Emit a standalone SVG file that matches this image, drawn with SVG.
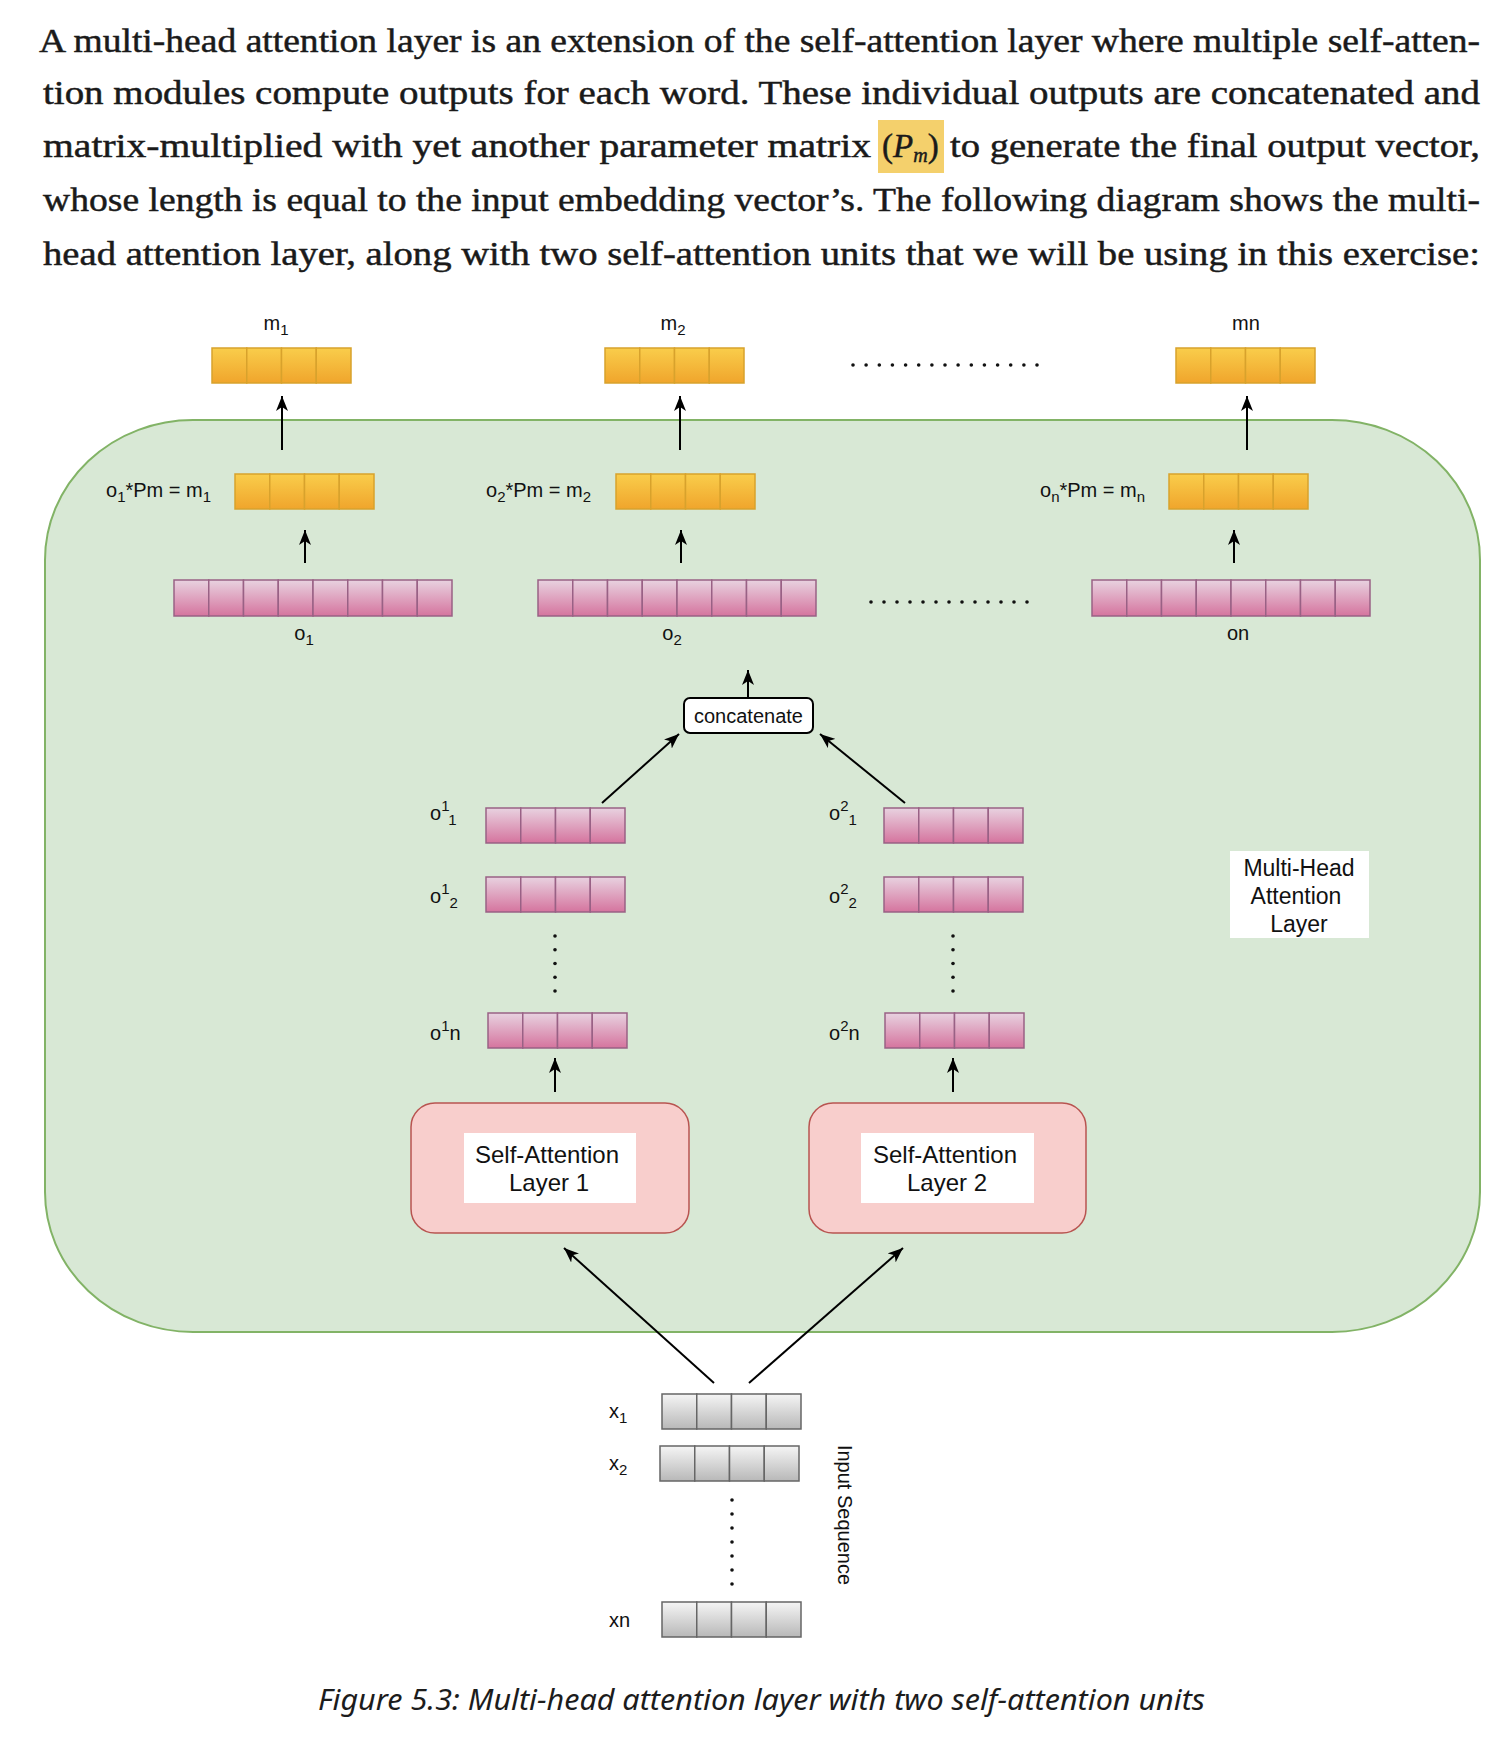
<svg xmlns="http://www.w3.org/2000/svg" xmlns:xlink="http://www.w3.org/1999/xlink" width="1512" height="1754" viewBox="0 0 1512 1754">
<style>
.para{font-family:"Liberation Serif",serif;font-size:33px;fill:#1a1a1a;stroke:#1a1a1a;stroke-width:0.45}
.cap{font-family:"Noto Sans","Liberation Sans",sans-serif;font-style:italic;font-size:29px;fill:#1c1c1c}
.lbl{font-family:"Liberation Sans",Arial,sans-serif;font-size:20px;fill:#111}
.big{font-family:"Liberation Sans",Arial,sans-serif;font-size:24px;fill:#111}
.mh{font-family:"Liberation Sans",Arial,sans-serif;font-size:23px;fill:#111}
.co{fill:url(#gOr);stroke:#d8a22c;stroke-width:1.5}
.cp{fill:url(#gPk);stroke:#996185;stroke-width:1.5}
.cg{fill:url(#gGr);stroke:#666;stroke-width:1.5}
.ln{stroke:#000;stroke-width:2;fill:none;marker-end:url(#arr)}
.dot{fill:#111}
</style>
<defs>
<linearGradient id="gOr" x1="0" y1="0" x2="0" y2="1"><stop offset="0" stop-color="#f9cd4b"/><stop offset="1" stop-color="#f0a52c"/></linearGradient>
<linearGradient id="gPk" x1="0" y1="0" x2="0" y2="1"><stop offset="0" stop-color="#e8d2e0"/><stop offset="1" stop-color="#d5749e"/></linearGradient>
<linearGradient id="gGr" x1="0" y1="0" x2="0" y2="1"><stop offset="0" stop-color="#f5f5f5"/><stop offset="1" stop-color="#b8b8b8"/></linearGradient>
<marker id="arr" viewBox="0 0 15 12" refX="15" refY="6" markerWidth="15" markerHeight="12" markerUnits="userSpaceOnUse" orient="auto"><path d="M0,0 L15,6 L0,12 L4,6 z" fill="#000"/></marker>
<g id="c4o"><rect class="co" x="0" y="0" width="34.75" height="35"/><rect class="co" x="34.75" y="0" width="34.75" height="35"/><rect class="co" x="69.5" y="0" width="34.75" height="35"/><rect class="co" x="104.25" y="0" width="34.75" height="35"/></g>
<g id="c4p"><rect class="cp" x="0" y="0" width="34.75" height="35"/><rect class="cp" x="34.75" y="0" width="34.75" height="35"/><rect class="cp" x="69.5" y="0" width="34.75" height="35"/><rect class="cp" x="104.25" y="0" width="34.75" height="35"/></g>
<g id="c8p"><rect class="cp" x="0" y="0" width="34.75" height="36"/><rect class="cp" x="34.75" y="0" width="34.75" height="36"/><rect class="cp" x="69.5" y="0" width="34.75" height="36"/><rect class="cp" x="104.25" y="0" width="34.75" height="36"/><rect class="cp" x="139" y="0" width="34.75" height="36"/><rect class="cp" x="173.75" y="0" width="34.75" height="36"/><rect class="cp" x="208.5" y="0" width="34.75" height="36"/><rect class="cp" x="243.25" y="0" width="34.75" height="36"/></g>
<g id="c4g"><rect class="cg" x="0" y="0" width="34.75" height="35"/><rect class="cg" x="34.75" y="0" width="34.75" height="35"/><rect class="cg" x="69.5" y="0" width="34.75" height="35"/><rect class="cg" x="104.25" y="0" width="34.75" height="35"/></g>
</defs>
<rect x="0" y="0" width="1512" height="1754" fill="#fff"/>

<g id="paragraph">
<text class="para" x="39" y="52" textLength="1441" lengthAdjust="spacingAndGlyphs">A multi-head attention layer is an extension of the self-attention layer where multiple self-atten-</text>
<text class="para" x="43" y="104" textLength="1437" lengthAdjust="spacingAndGlyphs">tion modules compute outputs for each word. These individual outputs are concatenated and</text>
<rect x="878" y="120" width="66" height="53" fill="#f4d06c"/>
<text class="para" x="43" y="157" textLength="828" lengthAdjust="spacingAndGlyphs">matrix-multiplied with yet another parameter matrix</text>
<text class="para" x="882" y="157">(<tspan font-style="italic">P</tspan><tspan font-style="italic" font-size="20" dy="5">m</tspan><tspan dy="-5">)</tspan></text>
<text class="para" x="950" y="157" textLength="530" lengthAdjust="spacingAndGlyphs">to generate the final output vector,</text>
<text class="para" x="43" y="211" textLength="1437" lengthAdjust="spacingAndGlyphs">whose length is equal to the input embedding vector’s. The following diagram shows the multi-</text>
<text class="para" x="43" y="265" textLength="1437" lengthAdjust="spacingAndGlyphs">head attention layer, along with two self-attention units that we will be using in this exercise:</text>
</g>

<g id="mha-container">
<rect x="45" y="420" width="1435" height="912" rx="148" ry="140" fill="#d8e8d5" stroke="#82b366" stroke-width="2"/>
</g>

<g id="m1"><use xlink:href="#c4o" x="212" y="348"/><text class="lbl" x="276" y="330" text-anchor="middle">m<tspan font-size="15" dy="5">1</tspan></text></g>
<g id="m2"><use xlink:href="#c4o" x="605" y="348"/><text class="lbl" x="673" y="330" text-anchor="middle">m<tspan font-size="15" dy="5">2</tspan></text></g>
<g id="mn"><use xlink:href="#c4o" x="1176" y="348"/><text class="lbl" x="1246" y="330" text-anchor="middle">mn</text></g>
<g id="top-dots" class="dot">
<circle cx="853" cy="365" r="1.8"/><circle cx="866.1" cy="365" r="1.8"/><circle cx="879.3" cy="365" r="1.8"/><circle cx="892.4" cy="365" r="1.8"/><circle cx="905.6" cy="365" r="1.8"/><circle cx="918.7" cy="365" r="1.8"/><circle cx="931.9" cy="365" r="1.8"/><circle cx="945" cy="365" r="1.8"/><circle cx="958.1" cy="365" r="1.8"/><circle cx="971.3" cy="365" r="1.8"/><circle cx="984.4" cy="365" r="1.8"/><circle cx="997.6" cy="365" r="1.8"/><circle cx="1010.7" cy="365" r="1.8"/><circle cx="1023.9" cy="365" r="1.8"/><circle cx="1037" cy="365" r="1.8"/>
</g>

<g id="p1"><use xlink:href="#c4o" x="235" y="474"/><text class="lbl" x="106" y="497">o<tspan font-size="15" dy="5">1</tspan><tspan dy="-5">*Pm = m</tspan><tspan font-size="15" dy="5">1</tspan></text></g>
<g id="p2"><use xlink:href="#c4o" x="616" y="474"/><text class="lbl" x="486" y="497">o<tspan font-size="15" dy="5">2</tspan><tspan dy="-5">*Pm = m</tspan><tspan font-size="15" dy="5">2</tspan></text></g>
<g id="pn"><use xlink:href="#c4o" x="1169" y="474"/><text class="lbl" x="1040" y="497">o<tspan font-size="15" dy="5">n</tspan><tspan dy="-5">*Pm = m</tspan><tspan font-size="15" dy="5">n</tspan></text></g>

<g id="o1"><use xlink:href="#c8p" x="174" y="580"/><text class="lbl" x="304" y="640" text-anchor="middle">o<tspan font-size="15" dy="5">1</tspan></text></g>
<g id="o2"><use xlink:href="#c8p" x="538" y="580"/><text class="lbl" x="672" y="640" text-anchor="middle">o<tspan font-size="15" dy="5">2</tspan></text></g>
<g id="on"><use xlink:href="#c8p" x="1092" y="580"/><text class="lbl" x="1238" y="640" text-anchor="middle">on</text></g>
<g id="mid-dots" class="dot">
<circle cx="871" cy="602" r="1.8"/><circle cx="884" cy="602" r="1.8"/><circle cx="897" cy="602" r="1.8"/><circle cx="910" cy="602" r="1.8"/><circle cx="923" cy="602" r="1.8"/><circle cx="936" cy="602" r="1.8"/><circle cx="949" cy="602" r="1.8"/><circle cx="962" cy="602" r="1.8"/><circle cx="975" cy="602" r="1.8"/><circle cx="988" cy="602" r="1.8"/><circle cx="1001" cy="602" r="1.8"/><circle cx="1014" cy="602" r="1.8"/><circle cx="1027" cy="602" r="1.8"/>
</g>

<g id="concatenate">
<rect x="684" y="698" width="129" height="35" rx="6" fill="#fff" stroke="#000" stroke-width="2"/>
<text class="lbl" x="748.5" y="723" text-anchor="middle">concatenate</text>
</g>

<g id="o1-1"><use xlink:href="#c4p" x="486" y="808"/><text class="lbl" x="430" y="820">o<tspan font-size="15" dy="-9">1</tspan><tspan font-size="15" dy="14">1</tspan></text></g>
<g id="o1-2"><use xlink:href="#c4p" x="486" y="877"/><text class="lbl" x="430" y="903">o<tspan font-size="15" dy="-9">1</tspan><tspan font-size="15" dy="14">2</tspan></text></g>
<g id="o1-n"><use xlink:href="#c4p" x="488" y="1013"/><text class="lbl" x="430" y="1040">o<tspan font-size="15" dy="-9">1</tspan><tspan dy="9">n</tspan></text></g>
<g id="o2-1"><use xlink:href="#c4p" x="884" y="808"/><text class="lbl" x="829" y="820">o<tspan font-size="15" dy="-9">2</tspan><tspan font-size="15" dy="14">1</tspan></text></g>
<g id="o2-2"><use xlink:href="#c4p" x="884" y="877"/><text class="lbl" x="829" y="903">o<tspan font-size="15" dy="-9">2</tspan><tspan font-size="15" dy="14">2</tspan></text></g>
<g id="o2-n"><use xlink:href="#c4p" x="885" y="1013"/><text class="lbl" x="829" y="1040">o<tspan font-size="15" dy="-9">2</tspan><tspan dy="9">n</tspan></text></g>
<g id="vdots" class="dot">
<circle cx="555" cy="936" r="1.8"/><circle cx="555" cy="949.75" r="1.8"/><circle cx="555" cy="963.5" r="1.8"/><circle cx="555" cy="977.25" r="1.8"/><circle cx="555" cy="991" r="1.8"/>
<circle cx="953" cy="936" r="1.8"/><circle cx="953" cy="949.75" r="1.8"/><circle cx="953" cy="963.5" r="1.8"/><circle cx="953" cy="977.25" r="1.8"/><circle cx="953" cy="991" r="1.8"/>
</g>

<g id="mha-label">
<rect x="1230" y="851" width="139" height="87" fill="#fff"/>
<text class="mh" text-anchor="middle"><tspan x="1299" y="876">Multi-Head</tspan><tspan x="1296" y="904">Attention</tspan><tspan x="1299" y="932">Layer</tspan></text>
</g>

<g id="sa1">
<rect x="411" y="1103" width="278" height="130" rx="24" fill="#f8cecc" stroke="#b85450" stroke-width="1.5"/>
<rect x="464" y="1133" width="172" height="70" fill="#fff"/>
<text class="big" text-anchor="middle"><tspan x="547" y="1163">Self-Attention</tspan><tspan x="549" y="1191">Layer 1</tspan></text>
</g>
<g id="sa2">
<rect x="809" y="1103" width="277" height="130" rx="24" fill="#f8cecc" stroke="#b85450" stroke-width="1.5"/>
<rect x="861" y="1133" width="173" height="70" fill="#fff"/>
<text class="big" text-anchor="middle"><tspan x="945" y="1163">Self-Attention</tspan><tspan x="947" y="1191">Layer 2</tspan></text>
</g>

<g id="x1"><use xlink:href="#c4g" x="662" y="1394"/><text class="lbl" x="609" y="1418">x<tspan font-size="15" dy="5">1</tspan></text></g>
<g id="x2"><use xlink:href="#c4g" x="660" y="1446"/><text class="lbl" x="609" y="1470">x<tspan font-size="15" dy="5">2</tspan></text></g>
<g id="xn"><use xlink:href="#c4g" x="662" y="1602"/><text class="lbl" x="609" y="1627">xn</text></g>
<g id="x-dots" class="dot">
<circle cx="732" cy="1500" r="1.8"/><circle cx="732" cy="1514" r="1.8"/><circle cx="732" cy="1528" r="1.8"/><circle cx="732" cy="1542" r="1.8"/><circle cx="732" cy="1556" r="1.8"/><circle cx="732" cy="1570" r="1.8"/><circle cx="732" cy="1584" r="1.8"/>
</g>
<g id="input-seq-label">
<text class="lbl" x="0" y="0" text-anchor="middle" transform="translate(838 1515) rotate(90)">Input Sequence</text>
</g>

<g id="connectors">
<line class="ln" x1="282" y1="450" x2="282" y2="396"/>
<line class="ln" x1="680" y1="450" x2="680" y2="396"/>
<line class="ln" x1="1247" y1="450" x2="1247" y2="396"/>
<line class="ln" x1="305" y1="563" x2="305" y2="530"/>
<line class="ln" x1="681" y1="563" x2="681" y2="530"/>
<line class="ln" x1="1234" y1="563" x2="1234" y2="530"/>
<line class="ln" x1="748" y1="698" x2="748" y2="670"/>
<line class="ln" x1="602" y1="803" x2="679" y2="734"/>
<line class="ln" x1="905" y1="803" x2="820" y2="734"/>
<line class="ln" x1="555" y1="1092" x2="555" y2="1058"/>
<line class="ln" x1="953" y1="1092" x2="953" y2="1058"/>
<line class="ln" x1="714" y1="1383" x2="564" y2="1248"/>
<line class="ln" x1="749" y1="1383" x2="903" y2="1248"/>
</g>

<g id="caption">
<text class="cap" x="318" y="1710" textLength="887" lengthAdjust="spacingAndGlyphs">Figure 5.3: Multi-head attention layer with two self-attention units</text>
</g>
</svg>
